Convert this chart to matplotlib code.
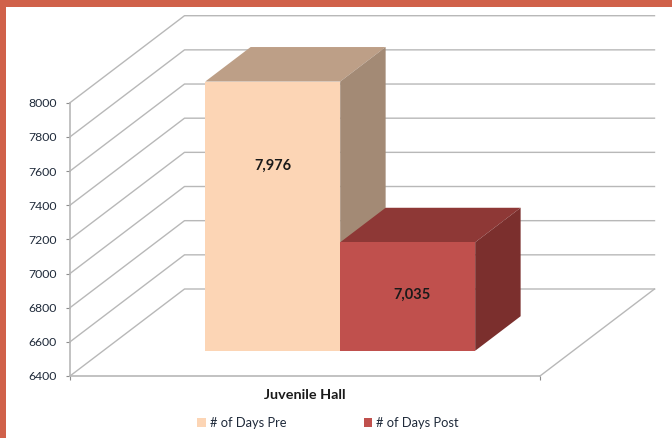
import matplotlib
matplotlib.use("Agg")
import matplotlib.pyplot as plt
from matplotlib.patches import Patch, Rectangle

plt.rcParams["font.family"] = ["Lato", "DejaVu Sans"]

# Data
category = "Juvenile Hall"
series_names = ["# of Days Pre", "# of Days Post"]
series_values = [7976, 7035]
y_ticks = [6400, 6600, 6800, 7000, 7200, 7400, 7600, 7800, 8000]

# Face colours for each bar
front_colors = ["#FCD5B5", "#C0504D"]
top_colors = ["#BD9F87", "#8E3836"]
side_colors = ["#A38A75", "#7B2F2D"]
grid_color = "#B8B8B8"
frame_color = "#D0614A"

W, H = 672, 438
fig = plt.figure(figsize=(W / 100, H / 100), dpi=100)
fig.patch.set_facecolor("white")

# Frame strip along the top and left edge
fig.add_artist(Rectangle((0, 1 - 7 / H), 1, 7 / H, transform=fig.transFigure, color=frame_color, lw=0))
fig.add_artist(Rectangle((0, 0), 6 / W, 1, transform=fig.transFigure, color=frame_color, lw=0))

# The axes box is the front plane of the fake 3D chart
ax = fig.add_axes([70 / W, 1 - 376 / H, 470 / W, 273.3 / H])
ax.set_xlim(0, 1)
ax.set_ylim(y_ticks[0], y_ticks[-1])
ax.patch.set_alpha(0)

# Oblique depth: one full depth unit moves right and up by these amounts
depth_x = 114.5 / 470
depth_y = 87 * 1600 / 273.3


def project(x, v, d):
    return x + d * depth_x, v + d * depth_y


def face(corners, color, z):
    pts = [project(*c) for c in corners]
    ax.fill([p[0] for p in pts], [p[1] for p in pts], color=color, lw=0, zorder=z, clip_on=False)


# Walls and floor grid
base = y_ticks[0]
for v in y_ticks:
    xs, ys = zip(project(0, v, 0), project(0, v, 1), project(1, v, 1))
    ax.plot(xs, ys, color=grid_color, lw=1.0, zorder=1, clip_on=False)
xs, ys = zip(project(1, base, 0), project(1, base, 1))
ax.plot(xs, ys, color=grid_color, lw=1.0, zorder=1, clip_on=False)

# Bars
bar_start = 0.217
bar_width = 0.2872
d0, d1 = 0.29, 0.687
label_frac = [0.686, 0.52]
label_shift = [0.0, 0.009]
for i, value in enumerate(series_values):
    x0 = bar_start + i * bar_width
    x1 = x0 + bar_width
    z = 3 + i
    face([(x0, value, d0), (x1, value, d0), (x1, value, d1), (x0, value, d1)], top_colors[i], z)
    face([(x1, base, d0), (x1, value, d0), (x1, value, d1), (x1, base, d1)], side_colors[i], z)
    face([(x0, base, d0), (x1, base, d0), (x1, value, d0), (x0, value, d0)], front_colors[i], z + 0.5)
    lx, ly = project((x0 + x1) / 2 + label_shift[i], base + (value - base) * label_frac[i], d0)
    ax.text(lx, ly, f"{value:,}", ha="center", va="center", fontsize=10.5,
            fontweight="bold", color="#1A1A1A", zorder=10)

# Axes styling
for name in ["top", "right"]:
    ax.spines[name].set_visible(False)
for name in ["left", "bottom"]:
    ax.spines[name].set_color(grid_color)
    ax.spines[name].set_linewidth(1.2)
ax.set_yticks(y_ticks)
ax.set_xticks([0, 1])
ax.set_xticklabels([])
ax.tick_params(axis="both", color="#8C8C8C", length=3, width=0.8)
ax.tick_params(axis="y", labelsize=8.8, labelcolor="#1F2A3A", pad=6.5)
ax.text(0.5, -0.071, category, transform=ax.transAxes, ha="center", va="center",
        fontsize=10.4, fontweight="bold", color="#1A1A1A")

handles = [Patch(facecolor=c, edgecolor="none", label=n) for c, n in zip(front_colors, series_names)]
fig.legend(handles=handles, loc="center", bbox_to_anchor=(328 / W, 1 - 423 / H), ncols=2,
           frameon=False, fontsize=9.3, handlelength=0.65, handleheight=0.65, handletextpad=0.3,
           columnspacing=6.0, labelcolor="#1F2A3A", borderpad=0, borderaxespad=0)

fig.savefig("out.png", dpi=100)
